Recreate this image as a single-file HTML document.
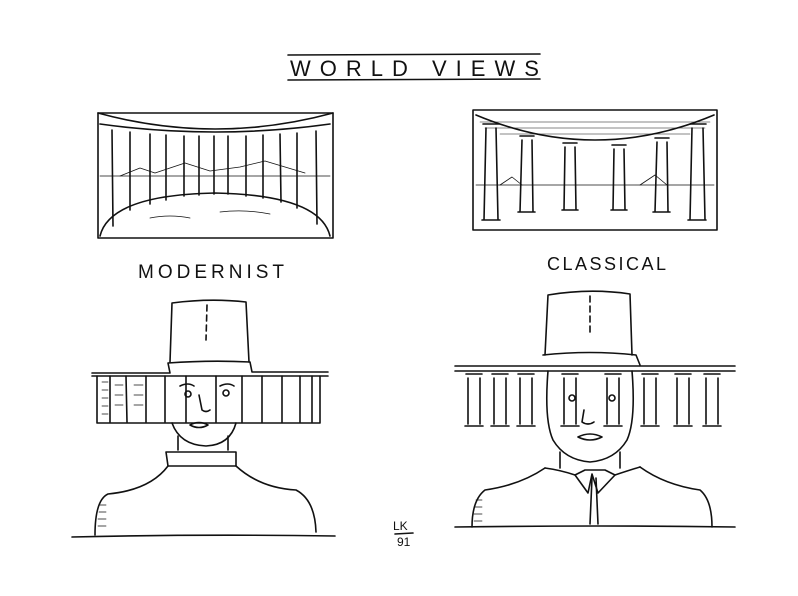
<!DOCTYPE html>
<html><head><meta charset="utf-8"><style>
html,body{margin:0;padding:0;background:#fff;width:798px;height:596px;overflow:hidden}
text{font-family:"Liberation Sans",sans-serif;fill:#111}
</style></head><body>
<svg width="798" height="596" viewBox="0 0 798 596" xmlns="http://www.w3.org/2000/svg" fill="none" stroke="#111" stroke-width="1.6" stroke-linecap="round" stroke-linejoin="round">
<line x1="288" y1="55" x2="540" y2="54"/>
<line x1="288" y1="80" x2="540" y2="79"/>
<text x="290" y="76" font-size="22" letter-spacing="9" stroke="none">WORLD VIEWS</text>

<rect x="98" y="113" width="235" height="125"/>
<path d="M98,113 Q215,145 333,113"/>
<path d="M100,124 Q215,140 330,124"/>
<path d="M100,236 Q110,195 215,193 Q320,195 330,236"/>
<path d="M100,176 L330,176" stroke-width="0.8"/>
<path d="M120,176 l20,-8 l15,5 l30,-10 l25,8 l30,-4 l25,-6 l40,12" stroke-width="0.8"/>
<g>
<line x1="112" y1="130" x2="113" y2="226"/><line x1="130" y1="132" x2="130" y2="210"/>
<line x1="150" y1="134" x2="150" y2="204"/><line x1="166" y1="135" x2="166" y2="200"/>
<line x1="184" y1="136" x2="184" y2="196"/><line x1="199" y1="136" x2="199" y2="195"/>
<line x1="214" y1="136" x2="214" y2="194"/><line x1="228" y1="136" x2="228" y2="194"/>
<line x1="246" y1="136" x2="246" y2="196"/><line x1="263" y1="135" x2="263" y2="198"/>
<line x1="280" y1="134" x2="281" y2="202"/><line x1="297" y1="133" x2="297" y2="208"/>
<line x1="316" y1="131" x2="317" y2="224"/>
</g>
<path d="M150,218 q20,-4 40,0 M220,212 q25,-3 50,2" stroke-width="0.8"/>

<rect x="473" y="110" width="244" height="120"/>
<path d="M476,115 Q595,165 714,115"/>
<path d="M480,122 h230 M485,128 h220 M500,134 h190" stroke-width="0.6"/>
<path d="M476,185 H714" stroke-width="0.8"/>
<path d="M500,185 l12,-8 l10,8 M640,185 l15,-10 l12,10" stroke-width="0.8"/>
<g>
<path d="M483,124 h16 M486,128 L484,220 M496,128 L498,220 M482,220 h18"/>
<path d="M520,136 h14 M522,140 L520,212 M532,140 L533,212 M518,212 h17"/>
<path d="M563,143 h14 M565,147 L564,210 M575,147 L576,210 M562,210 h16"/>
<path d="M612,145 h14 M614,149 L613,210 M624,149 L625,210 M611,210 h16"/>
<path d="M655,138 h14 M657,142 L655,212 M667,142 L668,212 M653,212 h17"/>
<path d="M690,124 h16 M692,128 L690,220 M703,128 L705,220 M688,220 h18"/>
</g>

<text x="138" y="278" font-size="19" letter-spacing="4" stroke="none">MODERNIST</text>
<text x="547" y="270" font-size="18" letter-spacing="2.5" stroke="none">CLASSICAL</text>

<path d="M170,362 L172,303 Q210,298 246,302 L249,362"/>
<line x1="207" y1="305" x2="206" y2="340" stroke-dasharray="6,4"/>
<path d="M92,373 H170 L168,363 Q210,360 250,362 L252,372 H328"/>
<path d="M92,376 H328"/>
<path d="M97,376 V423 H320 V376"/>
<g>
<line x1="110" y1="376" x2="110" y2="422"/><line x1="126" y1="376" x2="127" y2="422"/>
<line x1="146" y1="376" x2="146" y2="422"/><line x1="165" y1="376" x2="165" y2="422"/>
<line x1="186" y1="376" x2="186" y2="422"/><line x1="216" y1="376" x2="216" y2="422"/>
<line x1="242" y1="376" x2="242" y2="422"/><line x1="262" y1="376" x2="262" y2="422"/>
<line x1="282" y1="376" x2="282" y2="422"/><line x1="300" y1="376" x2="300" y2="422"/>
<line x1="312" y1="376" x2="312" y2="422"/>
</g>
<path d="M102,382 h6 M102,390 h6 M102,398 h6 M102,406 h6 M102,414 h6 M115,385 h8 M115,395 h8 M115,405 h8 M134,385 h9 M134,395 h9 M134,405 h9" stroke-width="0.8"/>
<circle cx="188" cy="394" r="3"/><circle cx="226" cy="393" r="3"/>
<path d="M180,386 q8,-4 14,0 M220,386 q8,-4 14,0 M199,395 L202,410 q4,3 8,0"/>
<path d="M190,425 q9,-5 18,0 q-9,5 -18,0"/>
<path d="M172,423 Q180,445 206,446 Q230,445 236,423"/>
<path d="M178,436 V450 M228,436 V450"/>
<path d="M166,452 H236 V466 H168 Z"/>
<path d="M168,466 Q150,490 108,494 Q95,500 95,535 M236,466 Q260,488 296,490 Q315,500 316,532"/>
<path d="M100,505 h6 M99,512 h7 M98,519 h8 M98,526 h8" stroke-width="0.8"/>
<path d="M72,537 Q200,534 335,536"/>

<path d="M545,355 L548,295 Q590,288 630,294 L632,355"/>
<line x1="590" y1="296" x2="590" y2="335" stroke-dasharray="6,4"/>
<path d="M543,355 Q590,350 636,355 L640,365"/>
<path d="M455,366 H735 M455,371 H735"/>
<g>
<path d="M466,374 h16 M468,378 V424 M480,378 V424 M465,426 h18"/>
<path d="M492,374 h16 M494,378 V424 M506,378 V424 M491,426 h18"/>
<path d="M518,374 h16 M520,378 V424 M532,378 V424 M517,426 h18"/>
<path d="M562,374 h16 M564,378 V424 M576,378 V424 M561,426 h18"/>
<path d="M605,374 h16 M607,378 V424 M619,378 V424 M604,426 h18"/>
<path d="M642,374 h16 M644,378 V424 M656,378 V424 M641,426 h18"/>
<path d="M675,374 h16 M677,378 V424 M689,378 V424 M674,426 h18"/>
<path d="M704,374 h16 M706,378 V424 M718,378 V424 M703,426 h18"/>
</g>
<path d="M548,371 Q544,420 553,440 Q565,460 590,462 Q615,460 627,440 Q636,420 632,371"/>
<circle cx="572" cy="398" r="3"/><circle cx="612" cy="398" r="3"/>
<path d="M584,410 L582,422 q6,4 12,0 M578,437 q12,-6 24,0 q-12,6 -24,0"/>
<path d="M560,452 V468 M620,452 V468"/>
<path d="M545,468 Q560,470 575,475 L585,470 L605,470 L615,475 Q630,470 640,467"/>
<path d="M575,475 L588,493 L592,474 L598,493 L615,475"/>
<path d="M592,478 L590,524 M596,478 L598,524"/>
<path d="M545,468 Q520,485 485,490 Q472,500 472,527 M640,467 Q665,485 700,490 Q712,500 712,527"/>
<path d="M476,500 h6 M475,507 h7 M474,514 h8 M474,521 h8" stroke-width="0.8"/>
<path d="M455,527 Q600,525 735,527"/>

<text x="393" y="530" font-size="12" stroke="none">LK</text>
<line x1="395" y1="534" x2="413" y2="533"/>
<text x="397" y="546" font-size="12" stroke="none">91</text>
</svg>
</body></html>
